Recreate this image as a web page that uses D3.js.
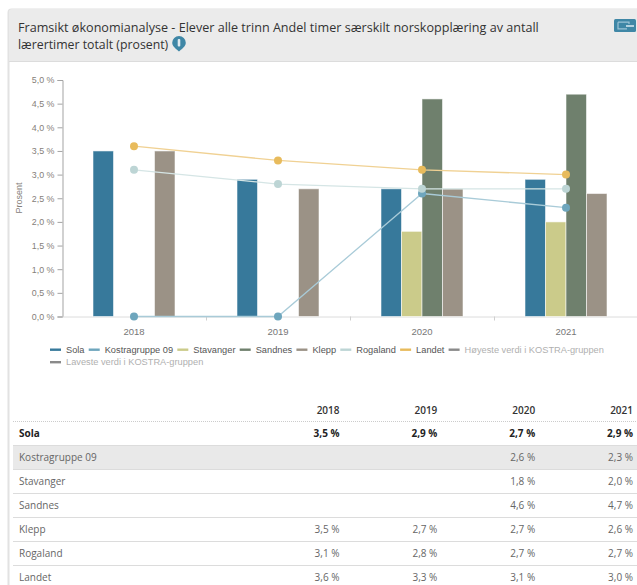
<!DOCTYPE html>
<html><head><meta charset="utf-8">
<script src="https://cdn.jsdelivr.net/npm/d3@7"></script>
<style>html,body{margin:0;padding:0;background:#fff;overflow:hidden}svg{display:block}</style>
</head><body><svg id="c" width="637" height="585"></svg>
<script>
const years=["2018","2019","2020","2021"];
const sola=[3.5,2.9,2.7,2.9];
const kostra=[0,0,2.6,2.3];
const stavanger=[null,null,1.8,2.0];
const sandnes=[null,null,4.6,4.7];
const klepp=[3.5,2.7,2.7,2.6];
const rogaland=[3.1,2.8,2.7,2.7];
const landet=[3.6,3.3,3.1,3.0];
const kostraTable=[null,null,2.6,2.3];
const yTicks=[0,0.5,1,1.5,2,2.5,3,3.5,4,4.5,5];
const titleLines=["Framsikt økonomianalyse - Elever alle trinn Andel timer særskilt norskopplæring av antall","lærertimer totalt (prosent)"];
const legendRows=[[["Sola","#37799b",0],["Kostragruppe 09","#6ea6bd",0],["Stavanger","#cbcb8a",0],["Sandnes","#6f806d",0],["Klepp","#9b9286",0],["Rogaland","#bdd5d5",0],["Landet","#e8bb5c",0],["Høyeste verdi i KOSTRA-gruppen","#8a8a8a",1]],[["Laveste verdi i KOSTRA-gruppen","#8a8a8a",1]]];
const tableNames=["Sola","Kostragruppe 09","Stavanger","Sandnes","Klepp","Rogaland","Landet"];
const tableValues=[sola,kostraTable,stavanger,sandnes,klepp,rogaland,landet];
const barSeries=[[sola,"#37799b"],[stavanger,"#cbcb8a"],[sandnes,"#6f806d"],[klepp,"#9b9286"]];
const lineSeries=[[kostra,"#6ea6bd","#a9cbd8"],[rogaland,"#bdd5d5","#d5e5e5"],[landet,"#e8bb5c","#f0d193"]];

const svg=d3.select("#c");
const fmt=v=>d3.format(".1f")(v).replace(".",",")+" %";
const sans="'Liberation Sans',Arial,sans-serif", open="'Open Sans',sans-serif";

// panel
svg.append("rect").attr("x",8.5).attr("y",9.5).attr("width",640).attr("height",590).attr("rx",3).attr("fill","#fff").attr("stroke","#e2e2e2").attr("stroke-width",2);
svg.append("path").attr("d","M9 61V12a3 3 0 0 1 3-3H637V61Z").attr("fill","#ebebeb");
svg.append("line").attr("x1",9).attr("x2",637).attr("y1",61.5).attr("y2",61.5).attr("stroke","#dcdcdc");
svg.selectAll(".t").data(titleLines).join("text").attr("x",18).attr("y",(d,i)=>31.5+i*17).attr("font-family",open).attr("font-size",(d,i)=>i?12.3:12.6).attr("fill","#333").text(d=>d);
const info=svg.append("g").attr("transform","translate(179,43.5)");
info.append("path").attr("d","M0,-7.5A6.8,6.8 0 0 1 6.8,-0.8C6.8,3 2,6 0,8C-2,6 -6.8,3 -6.8,-0.8A6.8,6.8 0 0 1 0,-7.5Z").attr("fill","#3f87a6");
info.append("rect").attr("x",-1.3).attr("y",-4.5).attr("width",2.6).attr("height",7.5).attr("rx",1).attr("fill","#dfeaf0");
const ic=svg.append("g").attr("transform","translate(614,19)");
ic.append("rect").attr("width",22).attr("height",13).attr("rx",1.5).attr("fill","#3f87a6");
ic.append("path").attr("d","M4 3.2H15V5M4 3.2V9.8H13").attr("fill","none").attr("stroke","#9cc4d6").attr("stroke-width",1.2);
ic.append("path").attr("d","M12 7H20").attr("stroke","#dcebf2").attr("stroke-width",1.5);

// chart
const x=d3.scaleBand().domain(years).range([62,638]);
const inner=d3.scaleBand().domain(d3.range(4)).range([-41,41]);
const y=d3.scaleLinear().domain([0,5]).range([316.5,80]);
const gy=svg.append("g").attr("transform","translate(62.5,0)").call(d3.axisLeft(y).tickValues(yTicks).tickSize(5).tickFormat(fmt));
gy.select(".domain").attr("stroke","#a3a3a3");
gy.selectAll(".tick line").attr("stroke","#a3a3a3");
gy.selectAll("text").attr("font-family",sans).attr("font-size",8.9).attr("fill","#85807a").attr("x",-8);
const gx=svg.append("g").attr("transform","translate(0,316.5)").call(d3.axisBottom(x).tickSize(0).tickPadding(12));
gx.select(".domain").attr("stroke","#dcdcdc");
gx.selectAll("text").attr("font-family",sans).attr("font-size",9.5).attr("fill","#777");
svg.selectAll(".xt").data(years.slice(1)).join("line").attr("x1",d=>x(d)+.5).attr("x2",d=>x(d)+.5).attr("y1",316.5).attr("y2",320.5).attr("stroke","#cfcfcf");
svg.append("text").attr("transform","translate(22,198) rotate(-90)").attr("text-anchor","middle").attr("font-family",sans).attr("font-size",9).attr("fill","#85807a").text("Prosent");
const cx=d=>x(d)+x.bandwidth()/2;
barSeries.forEach(([vals,col],k)=>{
  svg.append("g").selectAll("rect").data(years.map((yr,i)=>({yr,v:vals[i]})).filter(d=>d.v!=null)).join("rect")
    .attr("x",d=>cx(d.yr)+inner(k)).attr("width",inner.bandwidth()).attr("y",d=>y(d.v)).attr("height",d=>y(0)-y(d.v))
    .attr("fill",col).attr("stroke","#fff").attr("stroke-opacity",.55).attr("stroke-width",1);
});
lineSeries.forEach(([vals,col,lc])=>{
  const pts=years.map((yr,i)=>({yr,v:vals[i]}));
  svg.append("path").datum(pts).attr("fill","none").attr("stroke",lc).attr("stroke-width",1.3)
    .attr("d",d3.line().x(d=>cx(d.yr)).y(d=>y(d.v)));
  svg.append("g").selectAll("circle").data(pts).join("circle").attr("cx",d=>cx(d.yr)).attr("cy",d=>y(d.v)).attr("r",4).attr("fill",col);
});
// legend
legendRows.forEach((row,r)=>{
  let lx=50;const ly=349.5+r*12.5;
  row.forEach(([name,col,muted])=>{
    svg.append("rect").attr("x",lx).attr("y",ly-1).attr("width",11).attr("height",2.4).attr("fill",col);
    const t=svg.append("text").attr("x",lx+16).attr("y",ly+3.2).attr("font-family",sans).attr("font-size",9.25).attr("fill",muted?"#b0b0b0":"#555").text(name);
    lx+=16+t.node().getComputedTextLength()+4.2;
  });
});
// table
const colX=d3.scalePoint().domain(years).range([339.5,633]);
const tbl=svg.append("g");
tbl.selectAll(".h").data(years).join("text").attr("x",d=>colX(d)).attr("y",414).attr("text-anchor","end").attr("font-family",open).attr("font-size",10).attr("font-weight",600).attr("fill","#333").text(d=>d);
tbl.append("line").attr("x1",13).attr("x2",637).attr("y1",421.5).attr("y2",421.5).attr("stroke","#ccc").attr("stroke-dasharray","1 1");
tbl.append("rect").attr("x",13).attr("y",445).attr("width",624).attr("height",24.5).attr("fill","#e9e9e9");
tableNames.forEach((n,i)=>{
  const ty=437+i*24;
  if(i>0) tbl.append("line").attr("x1",13).attr("x2",637).attr("y1",445.5+(i-1)*24).attr("y2",445.5+(i-1)*24).attr("stroke","#dcdcdc");
  const c=i==0?"#222":"#666",w=i==0?700:400;
  tbl.append("text").attr("x",19).attr("y",ty).attr("font-family",open).attr("font-size",10).attr("font-weight",w).attr("fill",c).text(n);
  years.forEach((yr,j)=>{const v=tableValues[i][j];if(v!=null)
    tbl.append("text").attr("x",colX(yr)).attr("y",ty).attr("text-anchor","end").attr("font-family",open).attr("font-size",10).attr("font-weight",w).attr("fill",c).text(fmt(v));});
});
</script></body></html>
